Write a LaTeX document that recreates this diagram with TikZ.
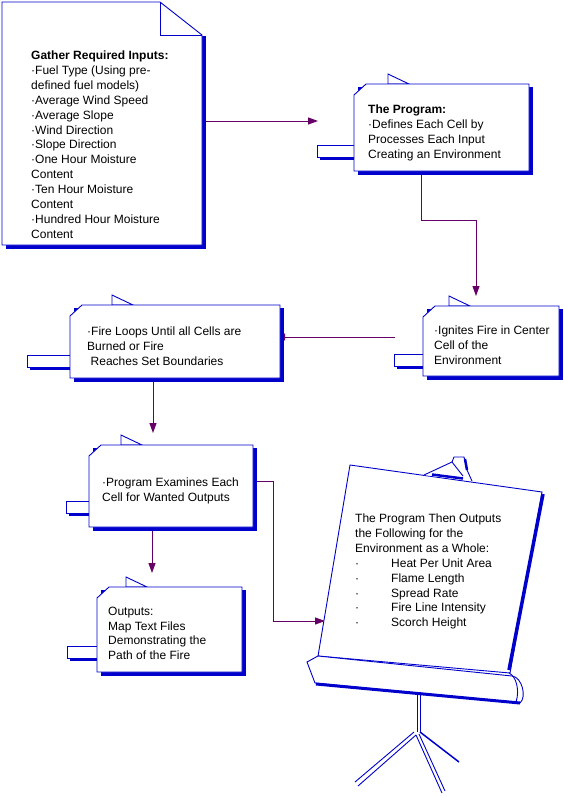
\documentclass[tikz,border=0pt]{standalone}
\usepackage{fontspec}
\setmainfont{Liberation Sans}
\usetikzlibrary{arrows.meta,fit}
\definecolor{vblue}{RGB}{0,0,204}
\definecolor{vpurple}{RGB}{102,0,102}
\pgfdeclarelayer{bg}
\pgfsetlayers{bg,main}
\tikzset{
 bline/.style={draw=vblue,line width=0.9pt,line join=miter},
 bshadow/.style={fill=vblue},
 thickblue/.style={draw=vblue,line width=3.5pt},
 arr/.style={draw=vpurple,line width=1pt,-{Triangle[length=10pt,width=7pt]}},
 txt/.style={font=\fontsize{12}{14.9}\selectfont,align=left,anchor=north west,inner sep=0pt,text=black},
 frame/.style={inner sep=0pt,draw=none}
}
\newcommand\card[8]{%
 \fill[bshadow] ({#7+3},{#8+3}) rectangle ({#2+1},{#8+15});
 \draw[bline,fill=white] (#7,#8) rectangle (#2,{#8+12});
 \draw[bline,fill=white] (#6,#3) -- (#6,{#3-10}) -- ({#6+21},#3) -- cycle;
 \fill[bshadow] ({#2+4},{#3+3}) rectangle ({#4+4},{#5+4});
 \draw[bline,fill=white] (#2,{#3+11}) -- ({#2+12},#3) -- (#4,#3) -- (#4,#5) -- (#2,#5) -- cycle;
 \path (#2,#3) coordinate (#1-nw) (#4,#5) coordinate (#1-se);
 \node[frame,fit=(#1-nw)(#1-se)] (#1) {};
}
\newcommand\bul{\makebox[36pt][l]{·}}
\begin{document}
\begin{tikzpicture}[x=1pt,y=-1pt]
\useasboundingbox (0,0) rectangle (564,796);
% document shape
\fill[bshadow] (6,36) rectangle (206,249);
\draw[bline,fill=white] (2,2) -- (160,2) -- (202,35) -- (202,245) -- (2,245) -- cycle;
\draw[bline] (160,2) -- (160,35) -- (202,35);
\path (2,2) coordinate (doc-nw) (202,245) coordinate (doc-se);
\node[frame,fit=(doc-nw)(doc-se)] (doc) {};
\node[txt] (doctext) at (31,50.6) {\textbf{Gather Required Inputs:}\\·Fuel Type (Using pre-\\defined fuel models)\\·Average Wind Speed\\·Average Slope\\·Wind Direction\\·Slope Direction\\·One Hour Moisture\\Content\\·Ten Hour Moisture\\Content\\·Hundred Hour Moisture\\Content};
% boxes
\card{prog}{354}{84}{529}{171}{388}{317}{145}
\node[txt] (progtext) at (368,104.6) {\textbf{The Program:}\\·Defines Each Cell by\\Processes Each Input\\Creating an Environment};
\card{ign}{423}{306}{559}{376}{449}{394}{354}
\node[txt] (igntext) at (434,325.6) {·Ignites Fire in Center\\Cell of the\\Environment};
\card{fire}{70}{305}{280}{378}{112}{27}{355}
\node[txt] (firetext) at (87,326.6) {·Fire Loops Until all Cells are\\Burned or Fire\\\hspace*{3.5pt}Reaches Set Boundaries};
\card{exam}{89}{445}{253}{527}{121}{66}{501}
\node[txt] (examtext) at (102,477.6) {·Program Examines Each\\Cell for Wanted Outputs};
\card{outp}{97}{587}{242}{672}{126}{67}{646}
\node[txt] (outptext) at (108,606.6) {Outputs:\\Map Text Files\\Demonstrating the\\Path of the Fire};
% easel
\draw[bline,fill=white] (350,465) -- (542,492) -- (510,673) -- (318,656) -- cycle;
\draw[thickblue] (543,494) -- (509,670);
\draw[bline,fill=white] (424,475) -- (452,462) -- (454,457) -- (464,457) -- (467,470) -- (472,481);
\draw[bline] (452,462) -- (463,476);
\draw[vblue,line width=2.5pt] (432,474.5) -- (463,478.5);
\draw[vblue,line width=2.5pt] (465,459) -- (467,470);
\draw[bline,fill=white] (318,656) -- (512,676) .. controls (522,677) and (527,697) .. (520,703) -- (315,683) -- (307,662) -- cycle;
\draw[bline] (509,673) .. controls (516,676) and (520,690) .. (516,702);
\draw[vblue,line width=3pt] (316,684) -- (520,703);
\draw[bline] (417,692) -- (417,732) (420,692) -- (420,732);
\draw[bline] (414,732) -- (355,782) (416,735) -- (358,786);
\draw[bline] (416,735) -- (442,793) (419,734) -- (445,791);
\draw[vblue,line width=1.5pt] (420,732) -- (459,762);
\node[txt] (easeltext) at (355,513.6) {The Program Then Outputs\\the Following for the\\Environment as a Whole:\\\bul Heat Per Unit Area\\\bul Flame Length\\\bul Spread Rate\\\bul Fire Line Intensity\\\bul Scorch Height};
% connectors
\begin{pgfonlayer}{bg}
\coordinate (t1) at (318,121);
\draw[arr] (doc.east |- t1) -- (t1);
\coordinate (k2) at (421,220);
\coordinate (t2) at (476,296);
\draw[arr] (prog.south -| k2) -- (k2) -| (t2);
\coordinate (s3) at (395,337);
\draw[arr,shorten >=-5pt] (s3) -- (fire.east |- s3);
\coordinate (t4) at (153,433);
\draw[arr] (fire.south -| t4) -- (t4);
\coordinate (t5) at (152,573);
\draw[arr] (exam.south -| t5) -- (t5);
\coordinate (k6) at (273,481);
\coordinate (t6) at (325,621);
\draw[arr] (exam.east |- k6) -- (k6) |- (t6);
\end{pgfonlayer}
\end{tikzpicture}
\end{document}
